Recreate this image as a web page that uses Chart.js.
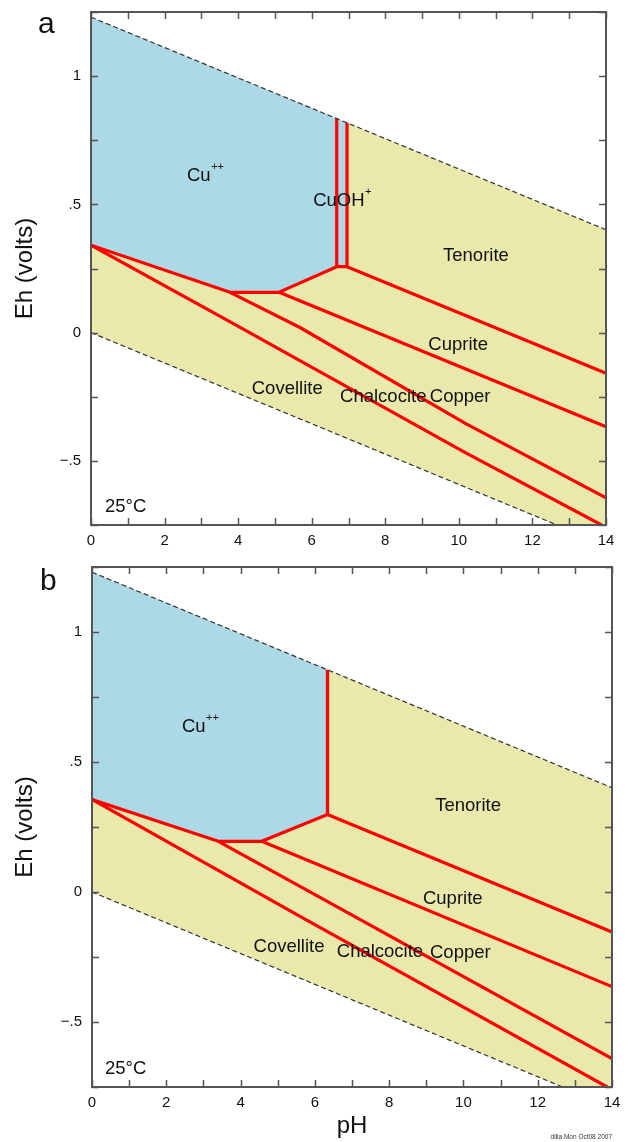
<!DOCTYPE html>
<html>
<head>
<meta charset="utf-8">
<script src="https://cdn.jsdelivr.net/npm/chart.js@4.4.0/dist/chart.umd.min.js"></script>
<style>
  body { margin: 0; background: #fff; }
  .panel { position: absolute; left: 0; width: 628px; }
  #wrapA { top: 0; height: 556px; }
  #wrapB { top: 556px; height: 586px; }
</style>
</head>
<body>
<div class="panel" id="wrapA"><canvas id="chartA"></canvas></div>
<div class="panel" id="wrapB"><canvas id="chartB"></canvas></div>
<script>
// axes
const phAxis = [0, 14];
const ehAxis = [-0.75, 1.25];

// water stability limits (dashed)
const waterUpperPh = [0, 14];
const waterUpperEh = [1.23, 0.401];
const waterLowerPh = [0, 12.67];
const waterLowerEh = [0, -0.75];

// panel a: Cu++ / CuOH+ field boundary
const aCuPh = [0, 3.78, 5.1, 6.68, 6.96];
const aCuEh = [0.341, 0.157, 0.157, 0.257, 0.257];
const aVertPh = [6.68, 6.96];
const aVertTopEh = [0.835, 0.818];
// panel a: sloping boundaries
const aL1Ph = [0, 3.87, 10.2, 13.88];
const aL1Eh = [0.341, 0.035, -0.47, -0.75];
const aL2Ph = [3.78, 5.68, 10.2, 14];
const aL2Eh = [0.157, 0.02, -0.356, -0.644];
const aL3Ph = [5.1, 14];
const aL3Eh = [0.158, -0.367];
const aL4Ph = [6.96, 14];
const aL4Eh = [0.257, -0.158];

const aLabelText = ['Cu', 'CuOH', 'Tenorite', 'Cuprite', 'Chalcocite', 'Copper', 'Covellite', '25°C'];
const aLabelSup = ['++', '+', '', '', '', '', '', ''];
const aLabelPh = [2.61, 6.04, 9.57, 9.17, 6.77, 9.21, 4.37, 0.38];
const aLabelEh = [0.590, 0.493, 0.279, -0.069, -0.272, -0.272, -0.240, -0.700];

// panel b
const bCuPh = [0, 3.4, 4.57, 6.34];
const bCuEh = [0.356, 0.195, 0.195, 0.298];
const bVertPh = [6.34];
const bVertTopEh = [0.855];
const bL1Ph = [0, 5.6, 13.87];
const bL1Eh = [0.356, -0.094, -0.75];
const bL2Ph = [3.4, 5.6, 14];
const bL2Eh = [0.195, 0.022, -0.641];
const bL3Ph = [4.57, 14];
const bL3Eh = [0.195, -0.364];
const bL4Ph = [6.34, 14];
const bL4Eh = [0.298, -0.154];

const bLabelText = ['Cu', 'Tenorite', 'Cuprite', 'Chalcocite', 'Copper', 'Covellite', '25°C'];
const bLabelSup = ['++', '', '', '', '', '', ''];
const bLabelPh = [2.42, 9.24, 8.91, 6.59, 9.10, 4.35, 0.35];
const bLabelEh = [0.614, 0.311, -0.046, -0.251, -0.255, -0.229, -0.700];

const FONT = "'Liberation Sans', Arial, Helvetica, sans-serif";
const RED = '#ff0000';
const BLUE = '#add8e6';
const YELLOW = '#e9e9ac';

function pts(xs, ys) {
    return xs.map((x, i) => ({x: x, y: ys[i]}));
}

function redLine(data) {
    return {type: 'line', data: data, borderColor: RED, borderWidth: 3.2,
            pointRadius: 0, fill: false, order: 2, borderJoinStyle: 'round'};
}

function fmtEh(v) {
    v = Math.round(v * 100) / 100;
    if (Math.abs(v * 2 - Math.round(v * 2)) > 1e-6) return '';
    return String(v).replace('0.', '.').replace('-', '\u2212');
}

const framePlugin = {
    id: 'frame',
    afterDraw(chart, args, opts) {
        const ctx = chart.ctx;
        const a = chart.chartArea;
        const sx = chart.scales.x, sy = chart.scales.y;
        ctx.save();
        ctx.strokeStyle = '#555';
        ctx.lineWidth = 1.5;
        const len = 7;
        ctx.beginPath();
        sx.ticks.forEach(t => {
            const px = Math.round(sx.getPixelForValue(t.value)) + 0.5;
            ctx.moveTo(px, a.bottom); ctx.lineTo(px, a.bottom - len);
            ctx.moveTo(px, a.top); ctx.lineTo(px, a.top + len);
        });
        sy.ticks.forEach(t => {
            const py = Math.round(sy.getPixelForValue(t.value)) + 0.5;
            ctx.moveTo(a.left, py); ctx.lineTo(a.left + len, py);
            ctx.moveTo(a.right, py); ctx.lineTo(a.right - len, py);
        });
        ctx.stroke();
        ctx.lineWidth = 2;
        ctx.strokeRect(a.left, a.top, a.right - a.left, a.bottom - a.top);

        // region labels
        ctx.fillStyle = '#111';
        ctx.textBaseline = 'alphabetic';
        ctx.textAlign = 'left';
        opts.text.forEach((txt, i) => {
            const px = sx.getPixelForValue(opts.ph[i]);
            const py = sy.getPixelForValue(opts.eh[i]);
            ctx.font = '18.5px ' + FONT;
            ctx.fillText(txt, px, py);
            if (opts.sup[i]) {
                const w = ctx.measureText(txt).width;
                ctx.font = '11px ' + FONT;
                ctx.fillText(opts.sup[i], px + w + 0.5, py - 11);
            }
        });

        // panel letter
        ctx.font = '30px ' + FONT;
        ctx.fillText(opts.letter, opts.letterX, opts.letterY);

        // y title
        ctx.save();
        ctx.translate(25, (a.top + a.bottom) / 2);
        ctx.rotate(-Math.PI / 2);
        ctx.textAlign = 'center';
        ctx.textBaseline = 'middle';
        ctx.font = '24px ' + FONT;
        ctx.fillText('Eh (volts)', 0, 0);
        ctx.restore();

        if (opts.xTitle) {
            ctx.textAlign = 'center';
            ctx.font = '24px ' + FONT;
            ctx.fillText('pH', (a.left + a.right) / 2, opts.xTitleY);
            ctx.textAlign = 'right';
            ctx.font = '6.5px ' + FONT;
            ctx.fillStyle = '#333';
            ctx.fillText('dilia Mon Oct08 2007', a.right, opts.xTitleY + 6);
        }
        ctx.restore();
    }
};

function makePanel(id, p) {
    const region = pts(waterUpperPh, waterUpperEh)
        .concat([{x: phAxis[1], y: ehAxis[0]}])
        .concat(pts(waterLowerPh, waterLowerEh).reverse());
    const lastPh = p.vertPh[p.vertPh.length - 1];
    const lastTop = p.vertTop[p.vertTop.length - 1];
    const blue = [{x: waterUpperPh[0], y: waterUpperEh[0]}, {x: lastPh, y: lastTop}]
        .concat(pts(p.cuPh, p.cuEh).reverse());

    const datasets = [
        {type: 'line', data: region, borderColor: 'transparent', backgroundColor: YELLOW,
         fill: 'shape', pointRadius: 0, order: 4},
        {type: 'line', data: blue, borderColor: 'transparent', backgroundColor: BLUE,
         fill: 'shape', pointRadius: 0, order: 3},
        redLine(pts(p.cuPh, p.cuEh))
    ];
    p.vertPh.forEach((ph, i) => {
        datasets.push(redLine([{x: ph, y: p.cuEh[p.cuEh.length - 1]}, {x: ph, y: p.vertTop[i]}]));
    });
    p.lines.forEach(l => datasets.push(redLine(pts(l[0], l[1]))));
    datasets.push({type: 'line', data: pts(waterUpperPh, waterUpperEh), borderColor: '#333',
        borderWidth: 1.2, borderDash: [5, 3], pointRadius: 0, fill: false, order: 1});
    datasets.push({type: 'line', data: pts(waterLowerPh, waterLowerEh), borderColor: '#333',
        borderWidth: 1.2, borderDash: [5, 3], pointRadius: 0, fill: false, order: 1});

    return new Chart(document.getElementById(id), {
        type: 'line',
        data: {datasets: datasets},
        options: {
            responsive: true,
            maintainAspectRatio: false,
            animation: false,
            events: [],
            layout: {padding: {top: p.padTop, right: p.padRight, left: 0, bottom: 0}},
            plugins: {
                legend: {display: false},
                tooltip: {enabled: false},
                frame: p.frame
            },
            scales: {
                x: {
                    type: 'linear', min: phAxis[0], max: phAxis[1],
                    grid: {display: false, drawTicks: false}, border: {display: false},
                    ticks: {stepSize: 1, autoSkip: false, maxRotation: 0, padding: 7,
                            color: '#111', font: {family: FONT, size: 15},
                            callback: v => (v % 2 === 0 ? String(v) : '')},
                    afterFit: s => { s.height = p.xHeight; s.paddingLeft = 0; s.paddingRight = 0; }
                },
                y: {
                    type: 'linear', min: ehAxis[0], max: ehAxis[1],
                    grid: {display: false, drawTicks: false}, border: {display: false},
                    ticks: {stepSize: 0.25, autoSkip: false, padding: 10,
                            color: '#111', font: {family: FONT, size: 15},
                            callback: v => fmtEh(v)},
                    afterFit: s => { s.width = p.yWidth; s.paddingTop = 0; s.paddingBottom = 0; }
                }
            }
        },
        plugins: [framePlugin]
    });
}

makePanel('chartA', {
    cuPh: aCuPh, cuEh: aCuEh, vertPh: aVertPh, vertTop: aVertTopEh,
    lines: [[aL1Ph, aL1Eh], [aL2Ph, aL2Eh], [aL3Ph, aL3Eh], [aL4Ph, aL4Eh]],
    padTop: 12, padRight: 22, xHeight: 31, yWidth: 91,
    frame: {text: aLabelText, sup: aLabelSup, ph: aLabelPh, eh: aLabelEh,
            letter: 'a', letterX: 38, letterY: 33, xTitle: false}
});

makePanel('chartB', {
    cuPh: bCuPh, cuEh: bCuEh, vertPh: bVertPh, vertTop: bVertTopEh,
    lines: [[bL1Ph, bL1Eh], [bL2Ph, bL2Eh], [bL3Ph, bL3Eh], [bL4Ph, bL4Eh]],
    padTop: 11, padRight: 16, xHeight: 55, yWidth: 92,
    frame: {text: bLabelText, sup: bLabelSup, ph: bLabelPh, eh: bLabelEh,
            letter: 'b', letterX: 40, letterY: 34, xTitle: true, xTitleY: 577}
});
</script>
</body>
</html>
